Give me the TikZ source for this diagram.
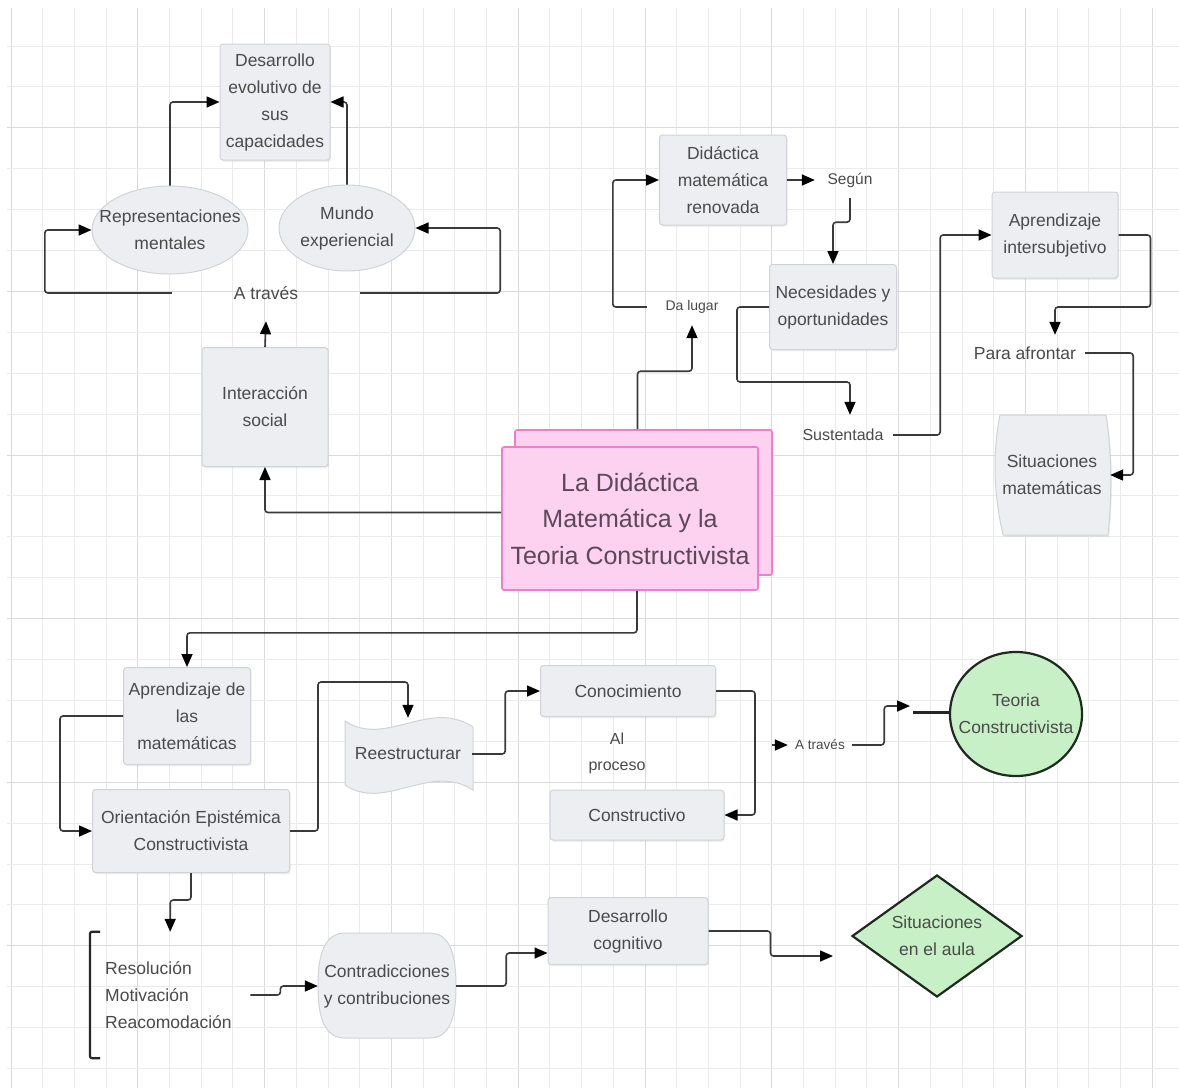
\documentclass[tikz,border=0pt]{standalone}
\usepackage{fontspec}
\setmainfont{Liberation Sans}
\usetikzlibrary{arrows.meta,shapes.geometric,calc,shadows}

\definecolor{boxfill}{HTML}{EDEEF2}
\definecolor{boxline}{HTML}{D2D3D8}
\definecolor{txt}{HTML}{4A4A4A}
\definecolor{linec}{HTML}{3A3A3A}
\definecolor{pinkfill}{HTML}{FCD2F0}
\definecolor{pinkline}{HTML}{F07CCB}
\definecolor{pinktxt}{HTML}{5C4858}
\definecolor{greenfill}{HTML}{C8F0C6}
\definecolor{greenline}{HTML}{1F2A1F}
\definecolor{gridmin}{HTML}{EBEBEB}
\definecolor{gridmaj}{HTML}{DADADA}

\newcommand\labfont{\fontsize{17.5}{27}\selectfont}
\newcommand\smlfont{\fontsize{14}{20}\selectfont}
\newcommand\ttlfont{\fontsize{25}{36.5}\selectfont}

\begin{document}
\begin{tikzpicture}[x=1pt,y=-1pt,
  box/.style={rectangle, rounded corners=3pt, draw=boxline, fill=boxfill,
    line width=1pt, text=txt, align=center, font=\labfont, inner sep=0pt,
    drop shadow={shadow xshift=1.2pt, shadow yshift=-1.8pt, opacity=0.12}},
  shapeout/.style={draw=boxline, fill=boxfill, line width=1pt},
  lbl/.style={text=txt, align=center, font=\labfont, inner sep=0pt},
  arr/.style={draw=linec, line width=1.6pt, rounded corners=3pt,
    -{Triangle[length=13pt,width=11pt,color=black]}},
  stack/.style={rectangle, rounded corners=2pt, draw=pinkline, fill=pinkfill,
    line width=1.6pt, inner sep=0pt},
  greenshape/.style={draw=greenline, fill=greenfill, line width=2.2pt, inner sep=0pt}
]
\useasboundingbox (0,0) rectangle (1179,1088);
\fill[white] (0,0) rectangle (1179,1088);

% background grid
\foreach \i in {0,...,36}{
  \pgfmathsetmacro\gx{11+31.7*\i}
  \pgfmathtruncatemacro\gm{mod(\i,4)}
  \ifnum\gm=0
    \draw[gridmaj, line width=1pt] (\gx,8) -- (\gx,1088);
  \else
    \draw[gridmin, line width=1pt] (\gx,8) -- (\gx,1088);
  \fi
}
\foreach \j in {-10,...,15}{
  \pgfmathsetmacro\gy{455+40.9*\j}
  \pgfmathtruncatemacro\gm{mod(\j,4)}
  \ifnum\gm=0
    \draw[gridmaj, line width=1pt] (7,\gy) -- (1179,\gy);
  \else
    \draw[gridmin, line width=1pt] (7,\gy) -- (1179,\gy);
  \fi
}

% ---------- upper left group ----------
\node[box, minimum width=110pt, minimum height=116pt] (des) at (275,102)
  {Desarrollo\\evolutivo de\\sus\\capacidades};
\node[ellipse, shapeout, minimum width=156pt, minimum height=88pt, inner sep=0pt] (rep) at (170,230) {};
\node[lbl] (repT) at (rep.center) {Representaciones\\mentales};
\node[ellipse, shapeout, minimum width=136pt, minimum height=86pt, inner sep=0pt] (mun) at (347,228) {};
\node[lbl] (munT) at (mun.center) {Mundo\\experiencial};
\node[lbl, minimum width=188pt, minimum height=56pt] (atr1) at (266,293) {A través};
\node[box, minimum width=126pt, minimum height=119pt] (inter) at (265,407) {Interacción\\social};

% ---------- central topic ----------
\node[stack, minimum width=257pt, minimum height=145pt] (mainb) at (643.5,502.5) {};
\node[stack, minimum width=256pt, minimum height=143pt, text=pinktxt, align=center, font=\ttlfont] (mainf) at (630,518.5)
  {La Didáctica\\Matemática y la\\Teoria Constructivista};

% ---------- upper right group ----------
\node[box, minimum width=127pt, minimum height=90pt] (did) at (723,180) {Didáctica\\matemática\\renovada};
\node[lbl, font=\fontsize{15.5}{20}\selectfont, minimum width=70pt, minimum height=36pt] (seg) at (850,180) {Según};
\node[box, minimum width=127pt, minimum height=85pt] (nec) at (833,307) {Necesidades y\\oportunidades};
\node[lbl, font=\smlfont, minimum width=90pt, minimum height=36pt] (dal) at (692,307) {Da lugar};
\node[lbl, font=\fontsize{16}{20}\selectfont, minimum width=100pt, minimum height=40pt] (sus) at (843,435) {Sustentada};
\node[box, minimum width=126pt, minimum height=86pt] (apr) at (1055,235) {Aprendizaje\\intersubjetivo};
\node[lbl, minimum width=120pt, minimum height=36pt] (para) at (1025,353) {Para afrontar};
\path[shapeout, drop shadow={shadow xshift=1.2pt, shadow yshift=-1.8pt, opacity=0.12}]
  (1000,415) -- (1106,415) .. controls (1112,455) and (1112,495) .. (1108,535)
  -- (1003,535) .. controls (994,495) and (992,455) .. (1000,415) -- cycle;
\node[lbl, minimum width=116pt, minimum height=120pt] (sitm) at (1052,475) {Situaciones\\matemáticas};

% ---------- lower group ----------
\node[box, minimum width=127pt, minimum height=97pt] (aprm) at (187,716) {Aprendizaje de\\las\\matemáticas};
\node[box, minimum width=197pt, minimum height=83pt] (ori) at (191,831) {Orientación Epistémica\\Constructivista};
\path[shapeout]
  (345,721) .. controls (385,748) and (430,698) .. (473,727) -- (473,790)
  .. controls (430,762) and (385,812) .. (345,785) -- cycle;
\node[lbl, minimum width=128pt, minimum height=72pt] (ree) at (408,754) {Reestructurar};
\node[box, minimum width=175pt, minimum height=51pt] (con) at (628,691) {Conocimiento};
\node[lbl, font=\fontsize{16}{26}\selectfont] (alp) at (617,753) {Al\\proceso};
\node[box, minimum width=174pt, minimum height=50pt] (cons) at (637,815) {Constructivo};
\node[lbl, font=\fontsize{13.5}{18}\selectfont, minimum width=64pt, minimum height=24pt] (atr2) at (820,745) {A través};
\coordinate (atrin) at (772,745);
\coordinate (tip) at (910,706);
\coordinate (tipb) at (913,712);
\node[ellipse, greenshape, minimum width=132pt, minimum height=124pt] (teo) at (1016,714) {};
\node[lbl] (teoT) at (teo.center) {Teoria\\Constructivista};

\node[lbl, anchor=west, align=left, text width=130pt, inner xsep=15pt, minimum height=126pt] (list) at (90,995)
  {Resolución\\Motivación\\Reacomodación};
\draw[draw=black!85, line width=2.2pt, rounded corners=2pt]
  ($(list.north west)+(10,0)$) -- (list.north west) -- (list.south west) -- ++(10,0);
\path[shapeout]
  (345,933) -- (430,933) .. controls (452,933) and (456,960) .. (456,986)
  .. controls (456,1012) and (452,1038) .. (430,1038) -- (345,1038)
  .. controls (322,1038) and (318,1012) .. (318,986)
  .. controls (318,960) and (322,933) .. (345,933) -- cycle;
\node[lbl, minimum width=138pt, minimum height=105pt] (contr) at (387,986) {Contradicciones\\y contribuciones};
\node[box, minimum width=160pt, minimum height=67pt] (dcog) at (628,931) {Desarrollo\\cognitivo};
\node[diamond, greenshape, minimum width=170pt, minimum height=122pt] (sau) at (937,936) {};
\node[lbl] (sauT) at (sau.center) {Situaciones\\en el aula};
\coordinate (saupt) at (833,956);

% ---------- connectors ----------
\draw[arr] (rep.north) |- (des.west);
\draw[arr] (mun.north) |- (des.east);
\draw[arr] (atr1.west) -- ++(-127,0) |- (rep.west);
\draw[arr] (atr1.east) -- ++(140,0) |- (mun.east);
\draw[arr] (inter.north) -- (atr1.south);
\draw[arr] ($(mainf.west)+(0,-6)$) -| (inter.south);

\draw[arr] ($(mainb.north)+(-6,0)$) -- ++(0,-58) -| (dal.south);
\draw[arr] (dal.west) -- ++(-34,0) |- (did.west);
\draw[arr] (did.east) -- (seg.west);
\draw[arr] (seg.south) -- ++(0,24) -| (nec.north);
\draw[arr] (nec.west) -- ++(-32,0) -- ++(0,75) -| ($(sus.north)+(7,0)$);
\draw[arr] (sus.east) -- ++(47,0) |- (apr.west);
\draw[arr] (apr.east) -- ++(32,0) -- ++(0,72) -| ($(para.north)+(30,0)$);
\draw[arr] (para.east) -- ++(48,0) |- (sitm.east);

\draw[arr] ($(mainf.south)+(7,0)$) -- ++(0,42) -| (aprm.north);
\draw[arr] (aprm.west) -- ++(-63,0) |- (ori.west);
\draw[arr] (ori.east) -- ++(28,0) -- ++(0,-149) -| (ree.north);
\draw[arr] (ree.east) -- ++(33,0) |- (con.west);
\draw[arr] (con.east) -- ++(39,0) |- (cons.east);
\draw[arr] (atrin) -- (atr2.west);
\draw[arr] (atr2.east) -- ++(32,0) |- (tip);
\draw[draw=black!85, line width=3pt] (tipb) -- (tipb -| teo.west);
\draw[arr] (ori.south) -- ++(0,27) -| (list.north);
\draw[arr] (list.east) -- ++(30,0) |- (contr.west);
\draw[arr] (contr.east) -- ++(50,0) |- ($(dcog.west)+(0,22)$);
\draw[arr] (dcog.east) -- ++(62,0) |- (saupt);
\end{tikzpicture}
\end{document}
